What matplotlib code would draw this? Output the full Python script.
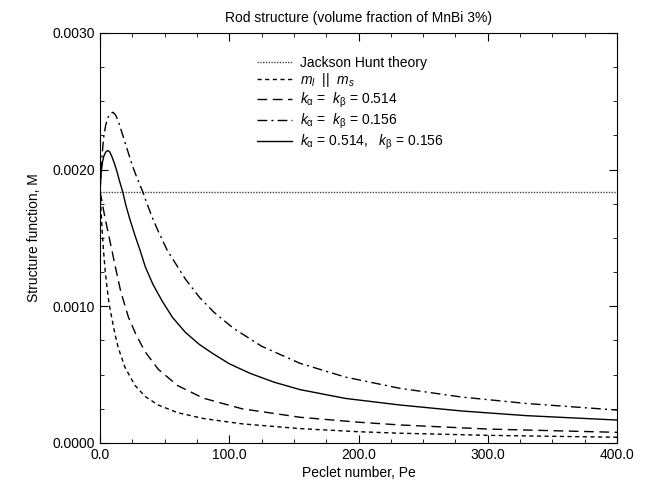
import matplotlib
matplotlib.use("Agg")
import matplotlib.pyplot as plt
from matplotlib.ticker import MultipleLocator, FormatStrFormatter

plt.rcParams['font.family'] = ['Liberation Sans', 'DejaVu Sans']
plt.rcParams['mathtext.fontset'] = 'custom'
plt.rcParams['mathtext.rm'] = 'Liberation Sans'
plt.rcParams['mathtext.it'] = 'Liberation Sans:italic'

# Jackson Hunt theory (constant)
M_jh = 0.00184

# m_l || m_s
pe_par = [0, 0.7, 1.5, 2.6, 4, 5.5, 7, 9, 11.5, 14, 19.3, 27, 35, 45, 60, 80, 110, 155,
          200, 232, 300, 400]
M_par = [0.00184, 0.00172, 0.00158, 0.00142, 0.00126, 0.00113, 0.00102, 0.00092, 0.00080,
         0.00070, 0.000554, 0.000422, 0.00034, 0.000278, 0.000222, 0.000179, 0.00014,
         0.000105, 0.0000825, 0.0000715, 0.000056, 0.000042]

# k_alpha = k_beta = 0.514
pe_514 = [0, 1.5, 3, 4.5, 6.5, 9, 11.6, 16, 22, 28, 35, 45, 60, 80, 110, 155, 200, 232,
          300, 400]
M_514 = [0.00184, 0.00177, 0.00169, 0.00162, 0.00153, 0.00142, 0.00130, 0.00111, 0.00092,
         0.00079, 0.000666, 0.00054, 0.00042, 0.000328, 0.00025, 0.000188, 0.000152,
         0.000132, 0.000102, 0.000078]

# k_alpha = k_beta = 0.156
pe_156 = [0, 1, 2, 3, 4.5, 6, 8, 10, 12, 14, 16, 18, 21, 25, 29, 33, 36, 40, 45, 52, 66,
          77, 88, 103, 125, 155, 190, 232, 280, 330, 400]
M_156 = [0.00184, 0.00202, 0.00215, 0.00225, 0.00233, 0.00238, 0.00241, 0.00242, 0.00240,
         0.00236, 0.00230, 0.00224, 0.00215, 0.00203, 0.00193, 0.00184, 0.00176, 0.00166,
         0.00155, 0.00141, 0.00120, 0.001065, 0.000958, 0.000841, 0.000708, 0.000582,
         0.000482, 0.00040, 0.000336, 0.000289, 0.000241]

# k_alpha = 0.514, k_beta = 0.156
pe_mix = [0, 1, 2, 3, 4.5, 6, 7.5, 9, 11, 13, 15, 17.5, 20, 23, 27, 31, 35, 41, 48, 56, 66,
          77, 88, 100, 116, 135, 155, 190, 232, 280, 330, 400]
M_mix = [0.00184, 0.00199, 0.00206, 0.00210, 0.00213, 0.00214, 0.00213, 0.00210, 0.00205,
         0.00199, 0.00192, 0.00184, 0.00174, 0.00164, 0.00152, 0.00141, 0.00129, 0.00116,
         0.00104, 0.00092, 0.00081, 0.00072, 0.00065, 0.00058, 0.00051, 0.000444, 0.00039,
         0.000326, 0.000278, 0.000234, 0.00020, 0.000168]

fig = plt.figure(figsize=(6.49, 4.86), dpi=100)
ax = fig.add_axes([0.1541, 0.0885, 0.7966, 0.8436])

ax.axhline(M_jh, color='#444444', lw=1.0, ls=(0, (1, 1)), label="Jackson Hunt theory")
ax.plot(pe_par, M_par, color='black', lw=1.0, ls=(0, (3, 2.5)), label=r"$m_l$  ||  $m_s$")
ax.plot(pe_514, M_514, color='black', lw=1.0, ls=(0, (7, 4)),
        label=r"$k_\mathrm{\alpha}$ =  $k_\mathrm{\beta}$ = 0.514")
ax.plot(pe_156, M_156, color='black', lw=1.0, ls=(0, (7, 3, 1.5, 3)),
        label=r"$k_\mathrm{\alpha}$ =  $k_\mathrm{\beta}$ = 0.156")
ax.plot(pe_mix, M_mix, color='black', lw=1.0, ls='-',
        label=r"$k_\mathrm{\alpha}$ = 0.514,   $k_\mathrm{\beta}$ = 0.156")

ax.set_xlim(0, 400)
ax.set_ylim(0, 0.003)
ax.xaxis.set_major_locator(MultipleLocator(100))
ax.xaxis.set_minor_locator(MultipleLocator(25))
ax.yaxis.set_major_locator(MultipleLocator(0.001))
ax.yaxis.set_minor_locator(MultipleLocator(0.00025))
ax.xaxis.set_major_formatter(FormatStrFormatter('%.1f'))
ax.yaxis.set_major_formatter(FormatStrFormatter('%.4f'))
ax.tick_params(which='both', direction='in', top=True, right=True, labelsize=10)
ax.tick_params(which='major', length=6)
ax.tick_params(which='minor', length=3)

ax.set_xlabel("Peclet number, Pe", fontsize=10, labelpad=3)
ax.set_ylabel("Structure function, M", fontsize=10, labelpad=8)
ax.set_title("Rod structure (volume fraction of MnBi 3%)", fontsize=10, pad=8)

ax.legend(loc='upper left', bbox_to_anchor=(0.3037, 0.945), frameon=False,
          fontsize=10, handlelength=2.5, handletextpad=0.6, labelspacing=0.12,
          borderpad=0, borderaxespad=0)

fig.savefig("out.png", dpi=100)
